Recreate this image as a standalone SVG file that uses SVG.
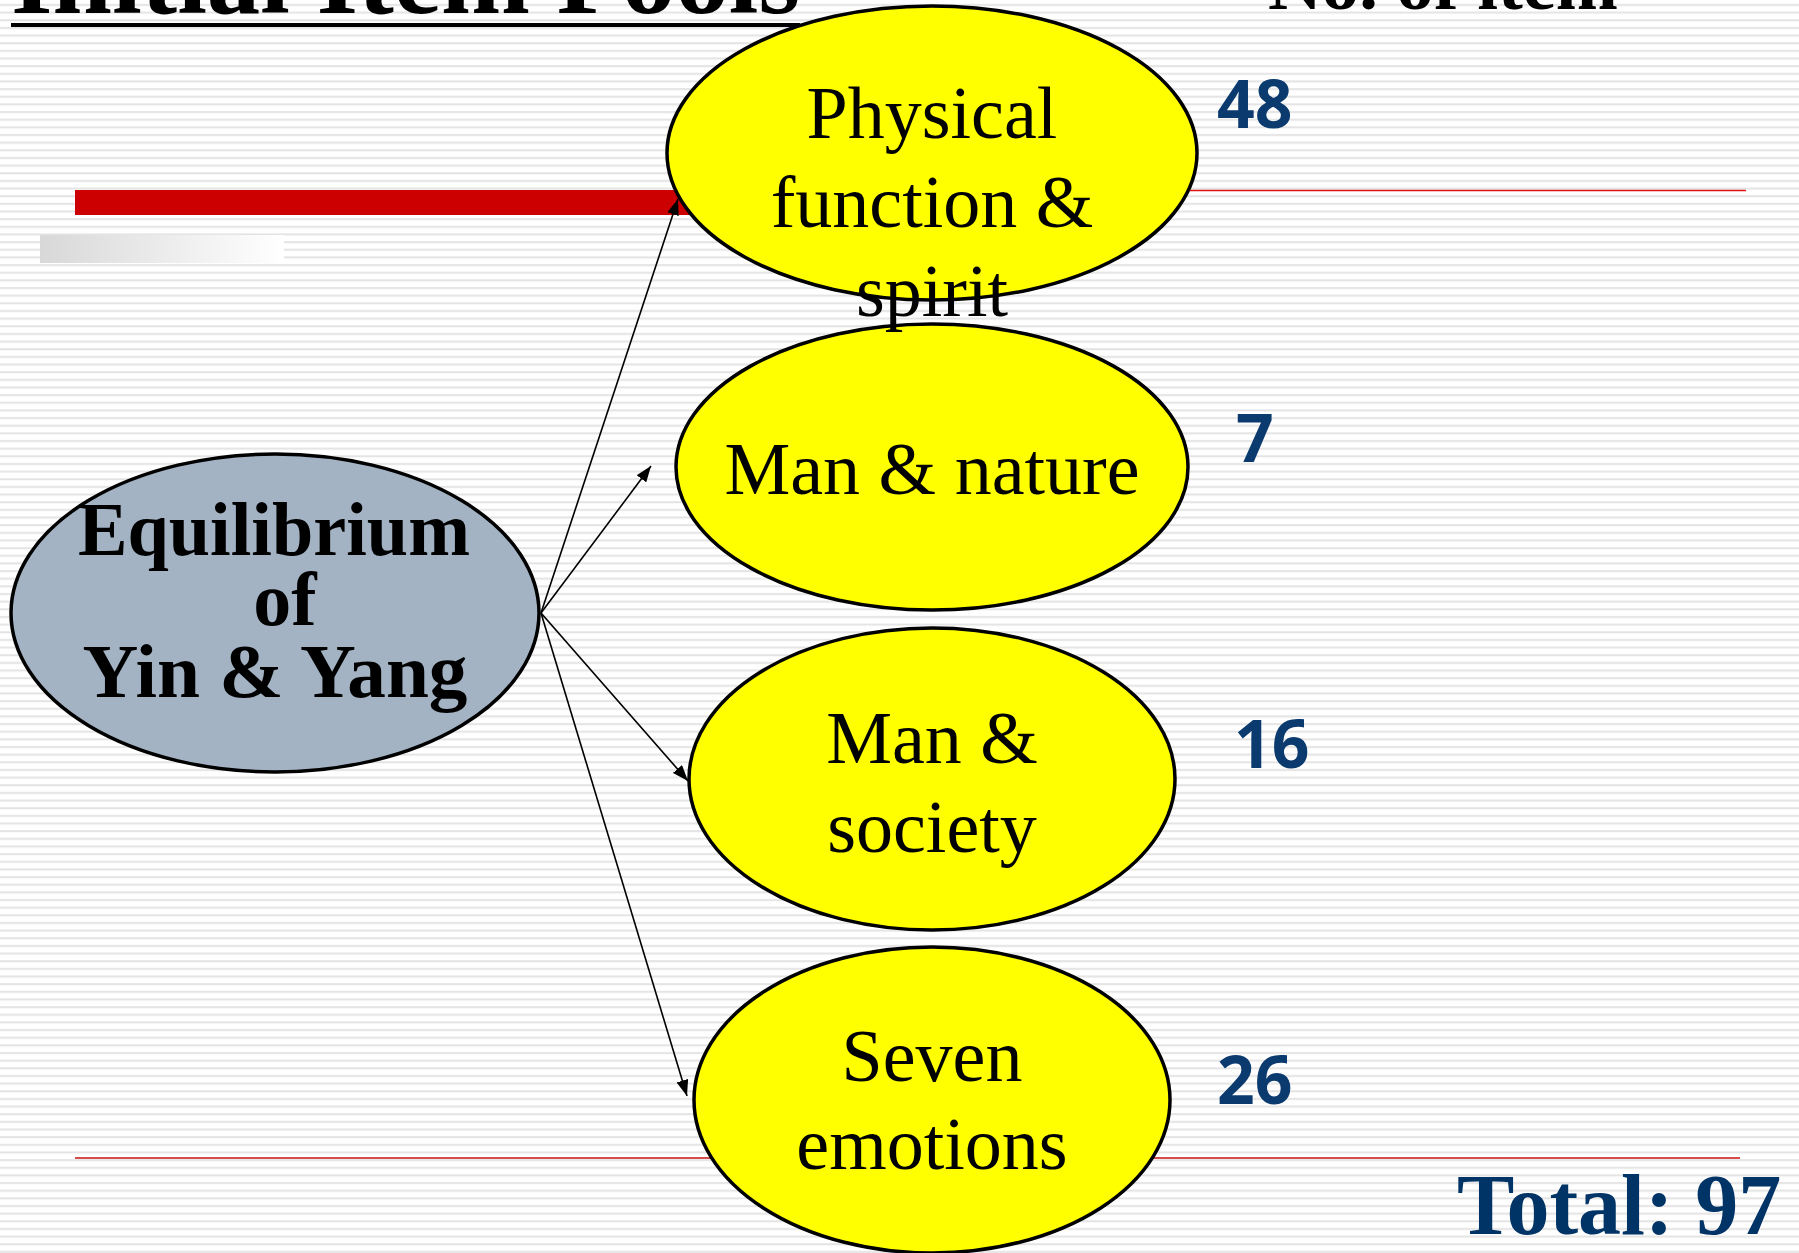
<svg xmlns="http://www.w3.org/2000/svg" width="1799" height="1253" viewBox="0 0 1799 1253">
  <defs>
    <pattern id="stripes" patternUnits="userSpaceOnUse" x="0" y="0" width="1799" height="7.65">
      <rect x="0" y="4" width="1799" height="2" fill="#e3e3e3"/>
    </pattern>
    <linearGradient id="grayfade" x1="0" y1="0" x2="1" y2="0">
      <stop offset="0" stop-color="#d8d8d8"/>
      <stop offset="1" stop-color="#ffffff"/>
    </linearGradient>
    <marker id="arrow" markerUnits="userSpaceOnUse" markerWidth="16" markerHeight="12" refX="16" refY="6" orient="auto">
      <path d="M0,0 L16,6 L0,12 z" fill="#000"/>
    </marker>
    <style>
      .yel { fill: #ffff00; stroke: #000; stroke-width: 3.5; }
      .gry { fill: #a3b3c4; stroke: #000; stroke-width: 3.5; }
      .lbl { font-family: "Liberation Serif", "Times New Roman", serif; font-size: 74px; fill: #000; text-anchor: middle; }
      .lblb { font-family: "Liberation Serif", "Times New Roman", serif; font-size: 76px; font-weight: bold; fill: #000; text-anchor: middle; }
      .num { font-family: "Open Sans", "DejaVu Sans", sans-serif; font-size: 66px; font-weight: bold; fill: #0a3a6e; }
      .conn { stroke: #000; stroke-width: 1.6; fill: none; marker-end: url(#arrow); }
    </style>
  </defs>

  <!-- background -->
  <rect x="0" y="0" width="1799" height="1253" fill="#ffffff"/>
  <rect x="0" y="0" width="1799" height="1253" fill="url(#stripes)"/>

  <!-- slide decoration -->
  <g id="decoration">
    <text x="11" y="13" font-family="Liberation Serif, Times New Roman, serif" font-size="106" font-weight="bold" fill="#000" textLength="789" lengthAdjust="spacingAndGlyphs">Initial Item Pools</text>
    <rect x="11" y="23" width="789" height="4" fill="#000"/>
    <text x="1268" y="9" font-family="Liberation Serif, Times New Roman, serif" font-size="74" font-weight="bold" fill="#000" textLength="350" lengthAdjust="spacingAndGlyphs">No. of item</text>
    <rect x="75" y="190" width="615" height="25" fill="#cc0000"/>
    <line x1="690" y1="190.5" x2="1746" y2="190.5" stroke="#dd1111" stroke-width="1.5"/>
    <rect x="40" y="235" width="244" height="28" fill="url(#grayfade)"/>
    <line x1="75" y1="1158" x2="1740" y2="1158" stroke="#cc1111" stroke-width="1.3"/>
  </g>

  <!-- nodes -->
  <g id="node-equilibrium">
    <ellipse class="gry" cx="275" cy="613" rx="264" ry="159"/>
    <text class="lblb" x="274" y="555" textLength="392" lengthAdjust="spacingAndGlyphs">Equilibrium</text>
    <text class="lblb" x="285" y="625">of</text>
    <text class="lblb" x="275" y="697" textLength="385" lengthAdjust="spacingAndGlyphs">Yin &amp; Yang</text>
  </g>

  <g id="node-man-nature">
    <ellipse class="yel" cx="932" cy="467" rx="256" ry="143"/>
    <text class="lbl" x="932" y="494">Man &amp; nature</text>
  </g>

  <g id="node-physical">
    <ellipse class="yel" cx="932" cy="153" rx="265" ry="147"/>
    <text class="lbl" x="932" y="138">Physical</text>
    <text class="lbl" x="932" y="227">function &amp;</text>
    <text class="lbl" x="932" y="316">spirit</text>
  </g>

  <g id="node-man-society">
    <ellipse class="yel" cx="932" cy="779" rx="243" ry="151"/>
    <text class="lbl" x="932" y="763">Man &amp;</text>
    <text class="lbl" x="932" y="852">society</text>
  </g>

  <g id="node-seven-emotions">
    <ellipse class="yel" cx="932" cy="1100" rx="238" ry="153"/>
    <text class="lbl" x="932" y="1081">Seven</text>
    <text class="lbl" x="932" y="1169">emotions</text>
  </g>

  <!-- counts -->
  <g id="counts">
    <text class="num" x="1217" y="128">48</text>
    <text class="num" x="1236" y="462">7</text>
    <text class="num" x="1234" y="768">16</text>
    <text class="num" x="1217" y="1104">26</text>
    <text x="1457" y="1234" font-family="Liberation Serif, Times New Roman, serif" font-size="86" font-weight="bold" fill="#003366">Total: 97</text>
  </g>

  <!-- connectors -->
  <g id="connectors">
    <line class="conn" x1="541" y1="613" x2="678" y2="199"/>
    <line class="conn" x1="541" y1="613" x2="651" y2="466"/>
    <line class="conn" x1="541" y1="613" x2="688" y2="781"/>
    <line class="conn" x1="541" y1="613" x2="687" y2="1096"/>
  </g>
</svg>
